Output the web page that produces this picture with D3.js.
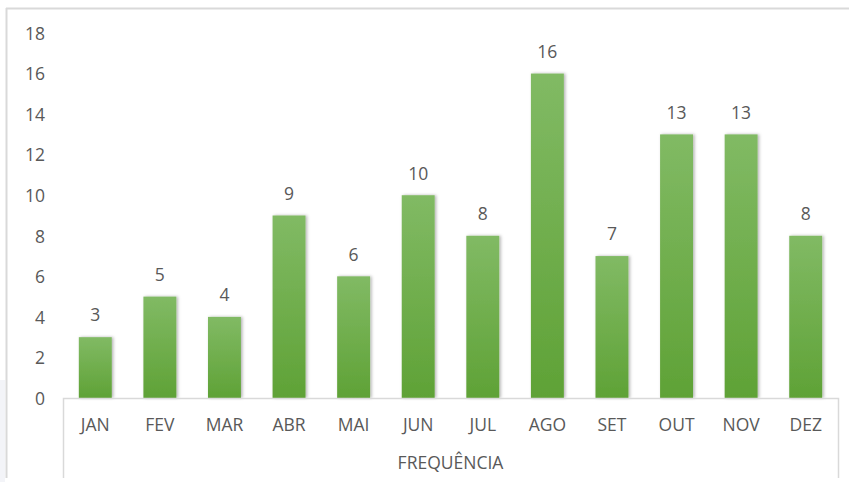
<!DOCTYPE html>
<html><head><meta charset="utf-8">
<script src="https://cdn.jsdelivr.net/npm/d3@7/dist/d3.min.js"></script>
<style>html,body{margin:0;padding:0;background:#fff;}svg{display:block;}</style>
</head><body>
<svg id="c" width="849" height="482"></svg>
<script>
const categories = ["JAN","FEV","MAR","ABR","MAI","JUN","JUL","AGO","SET","OUT","NOV","DEZ"];
const values = [3,5,4,9,6,10,8,16,7,13,13,8];
const yTicks = [0,2,4,6,8,10,12,14,16,18];
const groupLabel = "FREQUÊNCIA";

const svg = d3.select("#c");
const font = "'Open Sans', sans-serif";
const fs = 17.5;
const textColor = "#595959";

// outer chart border (top + left)
svg.append("rect").attr("x",0).attr("y",380).attr("width",5).attr("height",102).attr("fill","#f3f4f8");
svg.append("line").attr("x1",6).attr("x2",849).attr("y1",8.5).attr("y2",8.5).attr("stroke","#d9d9d9").attr("stroke-width",2);
svg.append("line").attr("x1",6.5).attr("x2",6.5).attr("y1",8).attr("y2",478).attr("stroke","#d9d9d9").attr("stroke-width",2);

const x = d3.scaleBand().domain(categories).range([63,838]).paddingInner(0.49).paddingOuter(0.245);
const y = d3.scaleLinear().domain([0,18]).range([398,33]);

const defs = svg.append("defs");
const g = defs.append("linearGradient").attr("id","grad").attr("x1",0).attr("x2",0).attr("y1",0).attr("y2",1);
g.append("stop").attr("offset","0%").attr("stop-color","#81ba64");
g.append("stop").attr("offset","100%").attr("stop-color","#5fa236");
const f = defs.append("filter").attr("id","sh").attr("x","-30%").attr("y","-10%").attr("width","160%").attr("height","120%");
f.append("feDropShadow").attr("dx",1.5).attr("dy",0).attr("stdDeviation",1.8).attr("flood-color","#000").attr("flood-opacity",0.3);

// y axis labels
const yAxis = d3.axisLeft(y).tickValues(yTicks).tickSize(0).tickPadding(0);
const ya = svg.append("g").attr("transform","translate(45,0)").call(yAxis);
ya.select(".domain").remove();
ya.selectAll("text").attr("font-family",font).attr("font-size",fs).attr("fill",textColor).attr("dy","0.36em");

// bars
svg.append("g").selectAll("rect").data(values).join("rect")
  .attr("x",(d,i)=>x(categories[i]))
  .attr("width",x.bandwidth())
  .attr("y",d=>y(d))
  .attr("height",d=>y(0)-y(d))
  .attr("fill","url(#grad)")
  .attr("filter","url(#sh)");

// value labels
svg.append("g").selectAll("text").data(values).join("text")
  .attr("x",(d,i)=>x(categories[i])+x.bandwidth()/2)
  .attr("y",d=>y(d)-22)
  .attr("dy","0.36em")
  .attr("text-anchor","middle")
  .attr("font-family",font).attr("font-size",fs).attr("fill",textColor)
  .text(d=>d);

// category axis box
svg.append("path").attr("d",`M63.5,478V398.5H838.5V478`).attr("fill","none").attr("stroke","#d9d9d9").attr("stroke-width",1.5);
const xAxis = d3.axisBottom(x).tickSize(0).tickPadding(0);
const xa = svg.append("g").attr("transform","translate(0,425)").call(xAxis);
xa.select(".domain").remove();
xa.selectAll("text").attr("font-family",font).attr("font-size",fs).attr("fill",textColor).attr("dy","0.36em");

svg.append("text").attr("x",(63+838)/2).attr("y",463).attr("dy","0.36em")
  .attr("text-anchor","middle").attr("font-family",font).attr("font-size",fs).attr("fill",textColor)
  .text(groupLabel);
</script>
</body></html>
